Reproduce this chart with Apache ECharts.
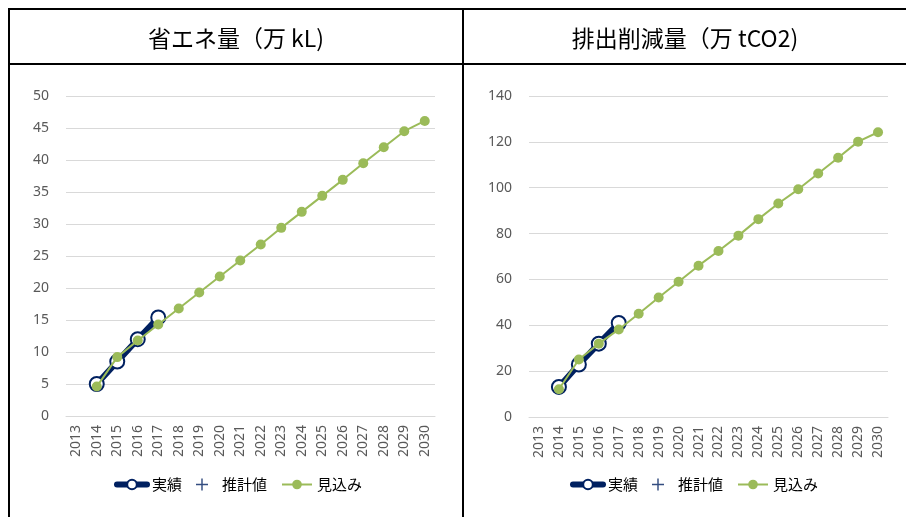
<!DOCTYPE html>
<html>
<head>
<meta charset="utf-8">
<script src="https://cdn.jsdelivr.net/npm/echarts@6/dist/echarts.min.js"></script>
<style>
html,body{margin:0;padding:0;background:#fff;}
#c{width:906px;height:517px;}
</style>
</head>
<body>
<div id="c"></div>
<script>
var years = ['2013','2014','2015','2016','2017','2018','2019','2020','2021','2022','2023','2024','2025','2026','2027','2028','2029','2030'];

// 省エネ量（万 kL)
var energyActual   = [null, 5.0, 8.5, 12.0, 15.4, null, null, null, null, null, null, null, null, null, null, null, null, null];
var energyEstimate = [null, null, null, null, null, null, null, null, null, null, null, null, null, null, null, null, null, null];
var energyOutlook  = [null, 4.6, 9.2, 11.8, 14.3, 16.8, 19.3, 21.8, 24.3, 26.8, 29.4, 31.9, 34.4, 36.9, 39.5, 42.0, 44.5, 46.1];

// 排出削減量（万 tCO2)
var co2Actual   = [null, 13.1, 22.9, 32.0, 41.0, null, null, null, null, null, null, null, null, null, null, null, null, null];
var co2Estimate = [null, null, null, null, null, null, null, null, null, null, null, null, null, null, null, null, null, null];
var co2Outlook  = [null, 12.1, 25.1, 32.0, 38.2, 45.0, 52.1, 59.0, 66.0, 72.4, 79.1, 86.3, 93.1, 99.3, 106.2, 113.1, 120.1, 124.2];

var titles = ['省エネ量（万 kL)', '排出削減量（万 tCO2)'];
var legendNames = ['実績', '推計値', '見込み'];

var navy = '#002060';
var green = '#9bbb59';
var gridColor = '#d9d9d9';
var labelColor = '#595959';
var plusPath = 'path://M4.4,0 L5.6,0 L5.6,4.4 L10,4.4 L10,5.6 L5.6,5.6 L5.6,10 L4.4,10 L4.4,5.6 L0,5.6 L0,4.4 L4.4,4.4 Z';

function xAxisCfg(idx){
  return {
    type: 'category', gridIndex: idx, data: years, boundaryGap: true,
    axisLine: {show: true, lineStyle: {color: gridColor, width: 1}},
    axisTick: {show: false},
    axisLabel: {rotate: 90, color: labelColor, fontSize: 14, fontFamily: 'Noto Sans', margin: 9, interval: 0}
  };
}
function yAxisCfg(idx, max, interval){
  return {
    type: 'value', gridIndex: idx, min: 0, max: max, interval: interval,
    axisLine: {show: false}, axisTick: {show: false},
    splitLine: {lineStyle: {color: gridColor, width: 1}},
    axisLabel: {color: labelColor, fontSize: 14, fontFamily: 'Noto Sans', margin: 17}
  };
}
function seriesSet(idx, actual, estimate, outlook){
  return [
    {
      name: legendNames[0], type: 'line', xAxisIndex: idx, yAxisIndex: idx, data: actual,
      symbol: 'emptyCircle', symbolSize: 14, showAllSymbol: true,
      lineStyle: {color: navy, width: 6, cap: 'round', join: 'round'},
      itemStyle: {color: navy, borderColor: navy, borderWidth: 1.5},
      z: 2
    },
    {
      name: legendNames[1], type: 'scatter', xAxisIndex: idx, yAxisIndex: idx, data: estimate,
      symbol: plusPath, symbolSize: 10,
      itemStyle: {color: navy},
      z: 3
    },
    {
      name: legendNames[2], type: 'line', xAxisIndex: idx, yAxisIndex: idx, data: outlook,
      symbol: 'circle', symbolSize: 10, showAllSymbol: true,
      lineStyle: {color: green, width: 2},
      itemStyle: {color: green},
      z: 4
    }
  ];
}
function legendCfg(left){
  return {
    data: [
      {name: legendNames[0], lineStyle: {width: 6, cap: 'round'}, itemStyle: {borderWidth: 1.5}},
      {name: legendNames[1]},
      {name: legendNames[2], lineStyle: {width: 2}}
    ],
    left: left, top: 472,
    itemWidth: 30, itemHeight: 12, itemGap: 14,
    textStyle: {color: '#000', fontSize: 15, fontFamily: 'Noto Sans CJK JP'}
  };
}

var chart = echarts.init(document.getElementById('c'), null, {renderer: 'canvas'});
var option = {
  animation: false,
  backgroundColor: '#fff',
  grid: [
    {left: 66, top: 96, width: 369, height: 320},
    {left: 529, top: 96, width: 359, height: 321}
  ],
  xAxis: [xAxisCfg(0), xAxisCfg(1)],
  yAxis: [yAxisCfg(0, 50, 5), yAxisCfg(1, 140, 20)],
  legend: [legendCfg(109), legendCfg(565)],
  series: seriesSet(0, energyActual, energyEstimate, energyOutlook)
    .concat(seriesSet(1, co2Actual, co2Estimate, co2Outlook)),
  graphic: [
    {type: 'rect', shape: {x: 8, y: 8, width: 898, height: 2}, style: {fill: '#000'}, silent: true},
    {type: 'rect', shape: {x: 8, y: 63, width: 898, height: 2}, style: {fill: '#000'}, silent: true},
    {type: 'rect', shape: {x: 8, y: 8, width: 2, height: 509}, style: {fill: '#000'}, silent: true},
    {type: 'rect', shape: {x: 462, y: 8, width: 2, height: 509}, style: {fill: '#000'}, silent: true},
    {type: 'text', x: 236, y: 38, style: {text: titles[0], align: 'center', verticalAlign: 'middle', fill: '#000', fontSize: 23, fontFamily: 'Noto Sans CJK JP'}, silent: true},
    {type: 'text', x: 685, y: 38, style: {text: titles[1], align: 'center', verticalAlign: 'middle', fill: '#000', fontSize: 23, fontFamily: 'Noto Sans CJK JP'}, silent: true}
  ]
};
chart.setOption(option);
</script>
</body>
</html>
